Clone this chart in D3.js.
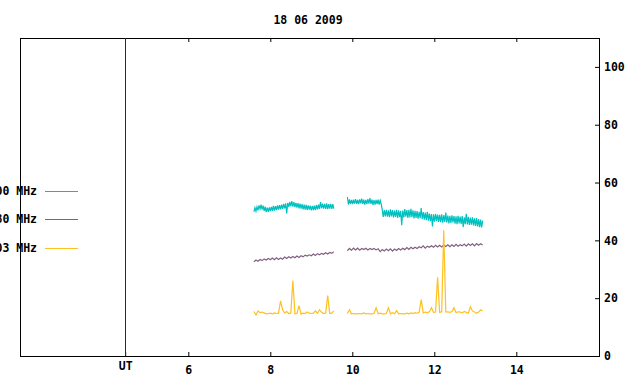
<!DOCTYPE html>
<html>
<head>
<meta charset="utf-8">
<script src="https://cdn.jsdelivr.net/npm/d3@7"></script>
<style>
  body { margin: 0; background: #fff; }
  text { font-family: "DejaVu Sans Mono", monospace; font-weight: bold; font-size: 11.5px; fill: #000; }
</style>
</head>
<body>
<div id="my_dataviz"></div>
<script>
// data: two recording segments per frequency
// cyan sampled every 0.025 h, the others every 0.05 h
var seg1Start = 7.60, seg2Start = 9.88;
var cyanStep = 0.025, step = 0.05;

var legendLabels = ["2800 MHz", "1080 MHz", "2803 MHz"];
var seriesColors = ["#00c0c0", "#806080", "#ffc020"];

var cyan1 = [49.9, 51.3, 50.1, 51.6, 50.4, 52.1, 50.9, 52.4, 50.6, 52.0,
             50.2, 51.7, 49.8, 51.3, 49.9, 51.4, 50.1, 51.6, 50.2, 51.9,
             50.3, 51.8, 50.5, 52.1, 50.6, 52.2, 50.7, 52.4, 50.9, 52.6,
             51.1, 52.8, 49.3, 53.0, 51.6, 53.3, 51.8, 53.6, 51.7, 53.2,
             51.5, 53.0, 51.3, 52.9, 51.1, 52.7, 51.0, 52.5, 50.7, 52.4,
             50.6, 52.3, 50.5, 52.1, 50.6, 52.0, 50.4, 51.9, 50.5, 52.0,
             50.5, 52.2, 50.7, 52.4, 50.9, 53.2, 51.1, 52.7, 51.0, 52.6,
             50.9, 52.8, 50.8, 52.5, 51.0, 52.6, 50.9, 52.5, 51.0];
var cyan2 = [55.0, 52.4, 54.2, 52.6, 54.0, 52.5, 54.1, 52.7, 54.3, 52.6,
             54.0, 52.5, 54.2, 52.8, 54.4, 52.6, 54.1, 52.4, 54.0, 52.5,
             54.3, 52.7, 54.6, 52.6, 54.1, 52.3, 53.9, 52.4, 54.0, 52.5,
             54.1, 52.4, 53.8, 52.5, 50.6, 48.1, 50.5, 48.3, 50.6, 48.2,
             50.4, 48.0, 50.7, 48.3, 50.5, 47.9, 50.3, 48.1, 50.6, 47.8,
             50.4, 48.0, 50.2, 45.2, 50.3, 47.9, 50.8, 48.2, 50.5, 47.8,
             50.6, 47.9, 50.9, 48.0, 50.4, 47.6, 50.2, 47.8, 50.1, 47.5,
             49.9, 47.7, 51.2, 47.4, 49.8, 47.2, 49.6, 47.0, 49.9, 46.8,
             49.3, 46.6, 49.1, 44.8, 49.0, 46.5, 49.2, 46.7, 48.9, 46.4,
             48.8, 46.3, 49.0, 46.1, 48.7, 46.4, 49.6, 46.2, 48.6, 45.9,
             48.5, 46.0, 48.7, 46.2, 48.4, 45.8, 48.3, 45.6, 48.5, 45.9,
             48.2, 45.7, 48.4, 44.6, 48.0, 45.6, 49.2, 45.5, 48.1, 45.3,
             47.9, 45.4, 48.0, 45.2, 47.6, 45.0, 47.7, 44.8, 47.4, 44.6,
             47.2, 44.5, 46.8];

var purple1 = [32.6, 33.2, 32.8, 33.4, 33.0, 33.6, 33.2, 33.7, 33.3, 33.9,
               33.3, 34.0, 33.4, 33.9, 33.5, 34.2, 33.7, 34.3, 33.9, 34.4,
               34.0, 34.6, 34.1, 34.7, 34.3, 34.9, 34.6, 35.0, 34.7, 35.3,
               34.8, 35.4, 35.0, 35.5, 35.2, 35.7, 35.3, 35.8, 35.5, 36.1];
var purple2 = [36.4, 37.2, 36.6, 37.3, 36.7, 37.3, 36.6, 37.2, 36.8, 37.3,
               36.7, 37.2, 36.8, 37.2, 36.7, 37.1, 36.1, 36.8, 36.3, 37.0,
               36.4, 37.1, 36.3, 37.0, 36.5, 37.2, 36.7, 37.3, 36.8, 37.5,
               36.9, 37.6, 37.1, 37.6, 37.2, 37.8, 37.4, 38.1, 37.3, 38.0,
               37.6, 38.1, 37.6, 38.3, 37.7, 38.3, 37.7, 38.4, 37.9, 38.5,
               37.8, 38.5, 37.9, 38.6, 38.0, 38.5, 38.1, 38.7, 38.0, 38.8,
               38.2, 38.8, 38.1, 38.9, 38.3, 38.8, 38.4];

var yellow1 = [15.4, 14.2, 15.6, 15.0, 15.2, 14.9, 14.6, 14.7, 14.8, 14.6,
               14.9, 14.7, 14.8, 19.1, 16.0, 14.9, 15.4, 14.7, 14.8, 26.1,
               14.6, 14.7, 17.4, 14.5, 14.8, 14.7, 15.2, 14.8, 14.7, 14.8,
               15.6, 14.8, 16.0, 15.1, 14.7, 14.8, 20.9, 14.7, 14.8, 15.6];
var yellow2 = [14.7, 16.0, 14.6, 14.7, 14.6, 14.6, 14.7, 14.6, 14.9, 14.6,
               14.7, 14.6, 14.6, 14.7, 16.7, 14.6, 14.8, 14.6, 14.6, 14.7,
               16.7, 14.6, 15.0, 14.6, 15.7, 14.6, 14.7, 14.6, 14.6, 14.8,
               14.6, 14.9, 14.7, 15.0, 14.8, 15.1, 19.5, 14.9, 15.2, 15.0,
               15.3, 16.7, 15.1, 15.2, 27.2, 15.1, 15.3, 43.5, 15.2, 15.3,
               15.1, 15.4, 16.7, 15.0, 15.3, 15.2, 14.9, 15.4, 15.1, 14.8,
               17.0, 15.6, 15.2, 14.8, 15.2, 16.0, 15.6];

var xTicks = [4.46, 6, 8, 10, 12, 14];
var xTickLabels = ["UT", "6", "8", "10", "12", "14"];
var yTicks = [0, 20, 40, 60, 80, 100];

// set the dimensions and margins of the graph
var margin = {top: 38, right: 41, bottom: 28, left: 20},
    width = 640 - margin.left - margin.right,
    height = 384 - margin.top - margin.bottom;

var svg = d3.select("#my_dataviz")
    .append("svg")
    .attr("width", 640)
    .attr("height", 384)
    .style("display", "block");

svg.append("rect").attr("width", 640).attr("height", 384).attr("fill", "#fff");

var g = svg.append("g")
    .attr("transform", "translate(" + margin.left + "," + margin.top + ")");

var x = d3.scaleLinear().domain([1.895, 16.017]).range([0, width]);
var y = d3.scaleLinear().domain([0, 110]).range([height, 0]);

// title
svg.append("text")
    .attr("x", 308).attr("y", 24)
    .attr("text-anchor", "middle")
    .text("18 06 2009");

// bottom axis, ticks pointing inward
var xAxis = g.append("g")
    .attr("transform", "translate(0," + height + ")")
    .call(d3.axisBottom(x).tickValues(xTicks).tickSize(-4).tickPadding(10)
        .tickFormat(function(d, i) { return xTickLabels[i]; }));
xAxis.select(".domain").remove();
xAxis.selectAll("text").attr("font-size", null).attr("font-family", null)
    .attr("dy", function(d, i) { return i === 0 ? "0.31em" : "0.71em"; });

// mirrored ticks on top
var xTop = g.append("g")
    .call(d3.axisTop(x).tickValues(xTicks.slice(1)).tickSize(-4).tickFormat(""));
xTop.select(".domain").remove();

// right axis
var yAxis = g.append("g")
    .attr("transform", "translate(" + width + ",0)")
    .call(d3.axisRight(y).tickValues(yTicks).tickSize(-4).tickPadding(5));
yAxis.select(".domain").remove();
yAxis.selectAll("text").attr("font-size", null).attr("font-family", null)
    .attr("x", 5);

// frame
g.append("rect")
    .attr("x", 0.5).attr("y", 0.5)
    .attr("width", width).attr("height", height)
    .attr("fill", "none").attr("stroke", "#000").attr("stroke-width", 1);

// UT marker line
g.append("line")
    .attr("x1", Math.round(x(xTicks[0])) + 0.5).attr("x2", Math.round(x(xTicks[0])) + 0.5)
    .attr("y1", 0).attr("y2", height)
    .attr("stroke", "#8b0000").attr("stroke-width", 1);

var line = d3.line()
    .x(function(d) { return x(d[0]); })
    .y(function(d) { return y(d[1]); });

function toPoints(values, start, dt) {
    return values.map(function(v, i) { return [start + i * dt, v]; });
}

var series = [
    [toPoints(cyan1, seg1Start, cyanStep), toPoints(cyan2, seg2Start, cyanStep)],
    [toPoints(purple1, seg1Start, step), toPoints(purple2, seg2Start, step)],
    [toPoints(yellow1, seg1Start, step), toPoints(yellow2, seg2Start, step)]
];

series.forEach(function(s, k) {
    s.forEach(function(pts) {
        g.append("path")
            .datum(pts)
            .attr("fill", "none")
            .attr("stroke", seriesColors[k])
            .attr("stroke-width", 1.2)
            .attr("d", line);
    });
});

// legend (labels run off the left edge like the original)
var legendY = [191, 219, 248];
legendLabels.forEach(function(lbl, i) {
    svg.append("text")
        .attr("x", 37).attr("y", legendY[i])
        .attr("dy", "0.35em")
        .attr("text-anchor", "end")
        .text(lbl);
    svg.append("line")
        .attr("x1", 45).attr("x2", 78)
        .attr("y1", legendY[i] + 0.5).attr("y2", legendY[i] + 0.5)
        .attr("stroke", seriesColors[i]).attr("stroke-width", 1);
});
</script>
</body>
</html>
